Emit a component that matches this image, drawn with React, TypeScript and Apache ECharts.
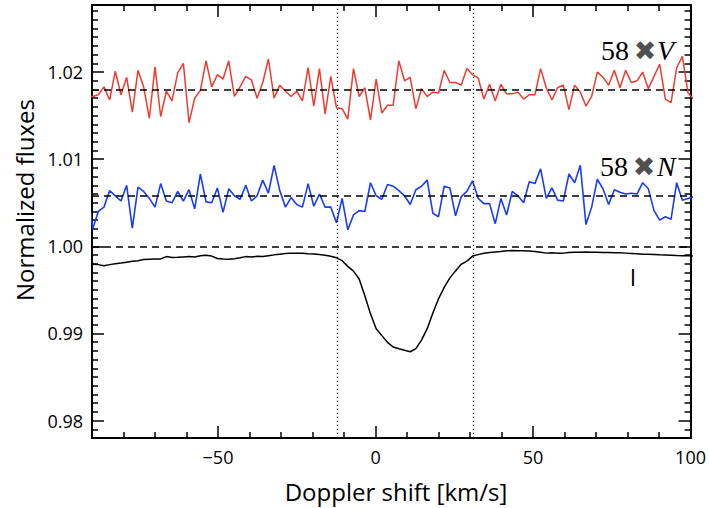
import React, { useEffect, useRef } from "react";
import * as echarts from "echarts";

// Velocity grid: first sample and step (km/s)
const V_START = -91.6;
const V_STEP = 1.8;

// 58 x Stokes V (offset), plotted values
const stokesV = [
  1.0172, 1.0172, 1.0174, 1.0183, 1.0168, 1.0201, 1.0174, 1.0194, 1.0154, 1.0202,
  1.0183, 1.0147, 1.0206, 1.0149, 1.0178, 1.0167, 1.0199, 1.021, 1.0142, 1.017,
  1.0179, 1.0213, 1.0183, 1.0197, 1.0192, 1.0213, 1.0172, 1.0183, 1.0195, 1.0191,
  1.017, 1.0188, 1.0215, 1.017, 1.0185, 1.0178, 1.0172, 1.0178, 1.0167, 1.0205,
  1.0161, 1.0204, 1.0152, 1.0195, 1.0159, 1.0158, 1.0146, 1.0204, 1.0172, 1.0182,
  1.0145, 1.0192, 1.0153, 1.0162, 1.0162, 1.0213, 1.019, 1.0194, 1.0158, 1.0181,
  1.0172, 1.0177, 1.0176, 1.0202, 1.0188, 1.0188, 1.0185, 1.0204, 1.0197, 1.0193,
  1.0169, 1.0186, 1.0167, 1.0186, 1.0175, 1.0175, 1.0177, 1.0169, 1.0174, 1.0174,
  1.0204, 1.0182, 1.0168, 1.0182, 1.0185, 1.0157, 1.0185, 1.0177, 1.0161, 1.0172,
  1.02, 1.0194, 1.0185, 1.0202, 1.0182, 1.0202, 1.0188, 1.019, 1.02, 1.0181,
  1.0195, 1.0209, 1.0169, 1.0165, 1.0205, 1.0218, 1.0176, 1.0169,
];

// 58 x Null N (offset), plotted values
const nullN = [
  1.0073, 1.002, 1.004, 1.0045, 1.0064, 1.0058, 1.0052, 1.007, 1.0021, 1.0068,
  1.0063, 1.0055, 1.0045, 1.0072, 1.0052, 1.005, 1.0063, 1.0052, 1.0065, 1.0043,
  1.0083, 1.0051, 1.005, 1.0067, 1.0039, 1.0066, 1.0058, 1.0054, 1.007, 1.0052,
  1.0058, 1.0076, 1.0061, 1.0093, 1.0064, 1.0045, 1.0056, 1.0048, 1.0045, 1.0072,
  1.0046, 1.006, 1.0045, 1.0045, 1.0027, 1.0055, 1.0019, 1.0036, 1.0041, 1.004,
  1.0073, 1.0058, 1.0054, 1.0071, 1.0069, 1.0064, 1.0058, 1.0048, 1.0065, 1.0069,
  1.0076, 1.0038, 1.0034, 1.0069, 1.0067, 1.0035, 1.0057, 1.0063, 1.0075, 1.0055,
  1.0049, 1.0049, 1.0026, 1.0055, 1.0036, 1.0063, 1.0058, 1.005, 1.0074, 1.0072,
  1.0089, 1.0055, 1.0067, 1.0053, 1.0052, 1.0083, 1.0073, 1.0093, 1.0025, 1.0045,
  1.0077, 1.0066, 1.0048, 1.0065, 1.0062, 1.006, 1.0061, 1.006, 1.0073, 1.0066,
  1.0041, 1.003, 1.0034, 1.0031, 1.0073, 1.0053, 1.0055, 1.0057,
];

// Stokes I profile
const stokesI = [
  0.9979, 0.99795, 0.9979, 0.99777, 0.9979, 0.998, 0.99808, 0.99818, 0.99828, 0.99835,
  0.99848, 0.99853, 0.99855, 0.99856, 0.99882, 0.99872, 0.99874, 0.99878, 0.99882, 0.99878,
  0.99892, 0.99898, 0.99888, 0.9986, 0.99855, 0.99853, 0.99858, 0.99868, 0.99882, 0.99878,
  0.99885, 0.99882, 0.99892, 0.99902, 0.9991, 0.99918, 0.99922, 0.99922, 0.9992, 0.99916,
  0.99913, 0.99905, 0.99898, 0.99886, 0.99868, 0.99835, 0.9977, 0.99715, 0.99625, 0.99432,
  0.99225, 0.99055, 0.98975, 0.98898, 0.98845, 0.98825, 0.98808, 0.9879, 0.98826, 0.98923,
  0.99055, 0.99235, 0.99398, 0.99528, 0.99638, 0.99718, 0.99793, 0.9983, 0.99888, 0.99905,
  0.9992, 0.99928, 0.99936, 0.99942, 0.99948, 0.99952, 0.9995, 0.99948, 0.99945, 0.99941,
  0.99932, 0.99922, 0.99925, 0.99922, 0.99922, 0.99928, 0.99933, 0.99932, 0.99935, 0.99933,
  0.99932, 0.9993, 0.99929, 0.99927, 0.99925, 0.99922, 0.99918, 0.99914, 0.9991, 0.99908,
  0.99905, 0.99902, 0.999, 0.99897, 0.99894, 0.99893, 0.99891, 0.9989,
];

const velocities = stokesI.map((_, k) => +(V_START + V_STEP * k).toFixed(2));

const X_MIN = -90;
const X_MAX = 100;
const Y_MIN = 0.978;
const Y_MAX = 1.0277;

const xMajorTicks = [-50, 0, 50, 100];
const xMinorTicks = [-80, -70, -60, -40, -30, -20, -10, 10, 20, 30, 40, 60, 70, 80, 90];
const yMajorTicks = [0.98, 0.99, 1.0, 1.01, 1.02];
const yMinorTicks: number[] = [];
for (let k = 979; k <= 1027; k++) {
  if (k % 10 !== 0) yMinorTicks.push(k / 1000);
}

const dashedLevels = [1.018, 1.0058, 1.0];
const dottedVelocities = [-12.1, 31];

const FONT = "Open Sans";

function makeX(position: "bottom" | "top", major: boolean, labels: boolean) {
  return {
    type: "value",
    min: X_MIN,
    max: X_MAX,
    position,
    axisLine: { show: major, onZero: false, lineStyle: { color: "#000", width: 2 } },
    axisTick: {
      show: true,
      inside: true,
      length: major ? 12 : 6,
      customValues: major ? xMajorTicks : xMinorTicks,
      lineStyle: { color: "#000", width: 1.5 },
    },
    axisLabel: {
      show: labels,
      customValues: xMajorTicks,
      formatter: (v: number) => String(v).replace("-", "\u2212"),
      color: "#000",
      fontSize: 18,
      fontFamily: FONT,
      margin: 10,
    },
    splitLine: { show: false },
  };
}

function makeY(position: "left" | "right", major: boolean, labels: boolean) {
  return {
    type: "value",
    min: Y_MIN,
    max: Y_MAX,
    position,
    axisLine: { show: major, onZero: false, lineStyle: { color: "#000", width: 2 } },
    axisTick: {
      show: true,
      inside: true,
      length: major ? 12 : 6,
      customValues: major ? yMajorTicks : yMinorTicks,
      lineStyle: { color: "#000", width: 1.5 },
    },
    axisLabel: {
      show: labels,
      customValues: yMajorTicks,
      formatter: (v: number) => v.toFixed(2),
      color: "#000",
      fontSize: 18,
      fontFamily: FONT,
      margin: 9,
    },
    splitLine: { show: false },
  };
}

export default function App() {
  const ref = useRef<HTMLDivElement>(null);

  useEffect(() => {
    if (!ref.current) return;
    const chart = echarts.init(ref.current, null, { renderer: "svg" });

    const pairs = (arr: number[]) => velocities.map((v, k) => [v, arr[k]]);

    const markData: any[] = [
      ...dashedLevels.map((y) => ({
        yAxis: y,
        lineStyle: { color: "#000", width: 1.6, type: [7, 5] },
      })),
      ...dottedVelocities.map((x) => ({
        xAxis: x,
        lineStyle: { color: "#000", width: 1.3, type: [1.3, 2.7] },
      })),
    ];

    const option: any = {
      animation: false,
      backgroundColor: "#fff",
      grid: { left: 92, right: 16, top: 5, bottom: 70, containLabel: false },
      xAxis: [
        makeX("bottom", true, true),
        makeX("bottom", false, false),
        makeX("top", true, false),
        makeX("top", false, false),
      ],
      yAxis: [
        makeY("left", true, true),
        makeY("left", false, false),
        makeY("right", true, false),
        makeY("right", false, false),
      ],
      series: [
        {
          name: "V",
          type: "line",
          data: pairs(stokesV),
          showSymbol: false,
          clip: true,
          lineStyle: { color: "#ef3b2f", width: 1.5 },
          z: 3,
        },
        {
          name: "N",
          type: "line",
          data: pairs(nullN),
          showSymbol: false,
          clip: true,
          lineStyle: { color: "#1a3cf5", width: 1.6 },
          z: 3,
        },
        {
          name: "I",
          type: "line",
          data: pairs(stokesI),
          showSymbol: false,
          clip: true,
          lineStyle: { color: "#000", width: 1.5 },
          z: 4,
          markLine: {
            silent: true,
            symbol: "none",
            precision: 6,
            label: { show: false },
            emphasis: { disabled: true },
            data: markData,
          },
        },
      ],
      graphic: [
        {
          type: "text",
          x: 24,
          y: 200,
          rotation: Math.PI / 2,
          style: {
            text: "Normalized fluxes",
            fontSize: 24,
            fontFamily: FONT,
            fill: "#000",
            align: "center",
            verticalAlign: "middle",
          },
        },
        {
          type: "text",
          x: 396,
          y: 491,
          style: {
            text: "Doppler shift [km/s]",
            fontSize: 24,
            fontFamily: FONT,
            fill: "#000",
            align: "center",
            verticalAlign: "middle",
          },
        },
        { type: "text", x: 601, y: 50, style: { text: "58", fontSize: 28, fontFamily: "Liberation Serif", fill: "#000", align: "left", verticalAlign: "middle" } },
        { type: "text", x: 645, y: 50, style: { text: "\u2716", fontSize: 27, fontFamily: "DejaVu Sans", fill: "#505050", align: "center", verticalAlign: "middle" } },
        { type: "text", x: 657, y: 50, style: { text: "V", fontSize: 28, fontStyle: "italic", fontFamily: "Liberation Serif", fill: "#000", align: "left", verticalAlign: "middle" } },
        { type: "text", x: 600, y: 166, style: { text: "58", fontSize: 28, fontFamily: "Liberation Serif", fill: "#000", align: "left", verticalAlign: "middle" } },
        { type: "text", x: 644, y: 166, style: { text: "\u2716", fontSize: 27, fontFamily: "DejaVu Sans", fill: "#505050", align: "center", verticalAlign: "middle" } },
        { type: "text", x: 657, y: 166, style: { text: "N", fontSize: 28, fontStyle: "italic", fontFamily: "Liberation Serif", fill: "#000", align: "left", verticalAlign: "middle" } },
        { type: "text", x: 633, y: 277, style: { text: "I", fontSize: 23, fontFamily: FONT, fill: "#000", align: "center", verticalAlign: "middle" } },
      ],
    };

    chart.setOption(option);
    return () => chart.dispose();
  }, []);

  return <div ref={ref} style={{ width: 709, height: 508, position: "absolute", left: 0, top: 0 }} />;
}
